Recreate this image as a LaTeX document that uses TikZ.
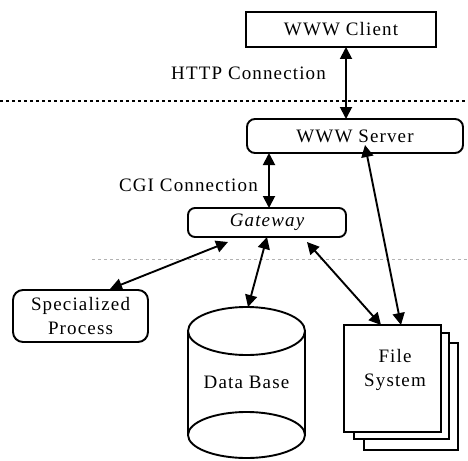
\documentclass[tikz,border=0pt]{standalone}
\usepackage{fontspec}
\setmainfont{Liberation Serif}[LetterSpace=6]
\usetikzlibrary{arrows.meta}
\begin{document}
\begin{tikzpicture}[x=1pt,y=-1pt,
  lbl/.style={font=\fontsize{19}{24}\selectfont, inner sep=0pt, align=center},
  box/.style={lbl, draw, line width=1.9pt, outer sep=0pt, anchor=north west},
  rbox/.style={box, rounded corners=#1},
  page/.style={draw, line width=1.9pt, fill=white},
  biarrow/.style={{Triangle[length=12pt,width=12pt]}-{Triangle[length=12pt,width=12pt]}, line width=1.9pt},
]
\useasboundingbox (0,0) rectangle (468,460);

% separators between the tiers
\draw[line width=2.5pt, dash pattern=on 2.5pt off 3.5pt] (0,101) -- (468,101);
\draw[gray!60, line width=0.6pt, dash pattern=on 3pt off 3pt] (92,259) -- (468,259);

% boxes
\node[box, minimum width=190pt, minimum height=35pt] (client) at (246,12) {WWW Client};
\node[rbox=8pt, minimum width=216pt, minimum height=34pt] (server) at (247,119) {WWW Server};
\node[rbox=7pt, minimum width=158pt, minimum height=29pt] (gw) at (188,208) {\itshape Gateway};
\node[rbox=10pt, minimum width=135pt, minimum height=52pt] (sp) at (13,290) {Specialized\\Process};

% stacked file pages
\draw[page] (364,343) rectangle (458,450);
\draw[page] (354,333) rectangle (449,439);
\node[box, fill=white, minimum width=97pt, minimum height=107pt] (fs) at (344,325) {};
\node[lbl] (fstext) at (395,370) {File\\System};

% data base cylinder
\draw[line width=1.9pt] (188,331) -- (188,435) (305,331) -- (305,435);
\draw[line width=1.9pt, fill=white] (246.5,331) ellipse [x radius=58.5pt, y radius=24pt];
\draw[line width=1.9pt] (246.5,435) ellipse [x radius=58.5pt, y radius=23pt];
\node[lbl] (db) at (246.5,382) {Data Base};
\coordinate (dbtop) at (248,307);

% labels
\node[lbl, anchor=west] (http) at (171,73) {HTTP Connection};
\node[lbl, anchor=east] (cgi) at (258,185) {CGI Connection};

% connections
\draw[biarrow] ([xshift=5pt]client.south) -- ([xshift=-9pt]server.north);
\draw[biarrow] ([xshift=22pt]server.south west) -- ([xshift=2pt]gw.north);
\draw[biarrow] ([xshift=40pt,yshift=-5pt]gw.south west) -- ([xshift=97pt,yshift=1pt]sp.north west);
\draw[biarrow] (gw.south) -- (dbtop);
\draw[biarrow] ([xshift=-39pt,yshift=-5pt]gw.south east) -- ([xshift=37pt]fs.north west);
\draw[biarrow] ([xshift=10pt,yshift=8pt]server.south) -- ([xshift=57pt]fs.north west);
\end{tikzpicture}
\end{document}
